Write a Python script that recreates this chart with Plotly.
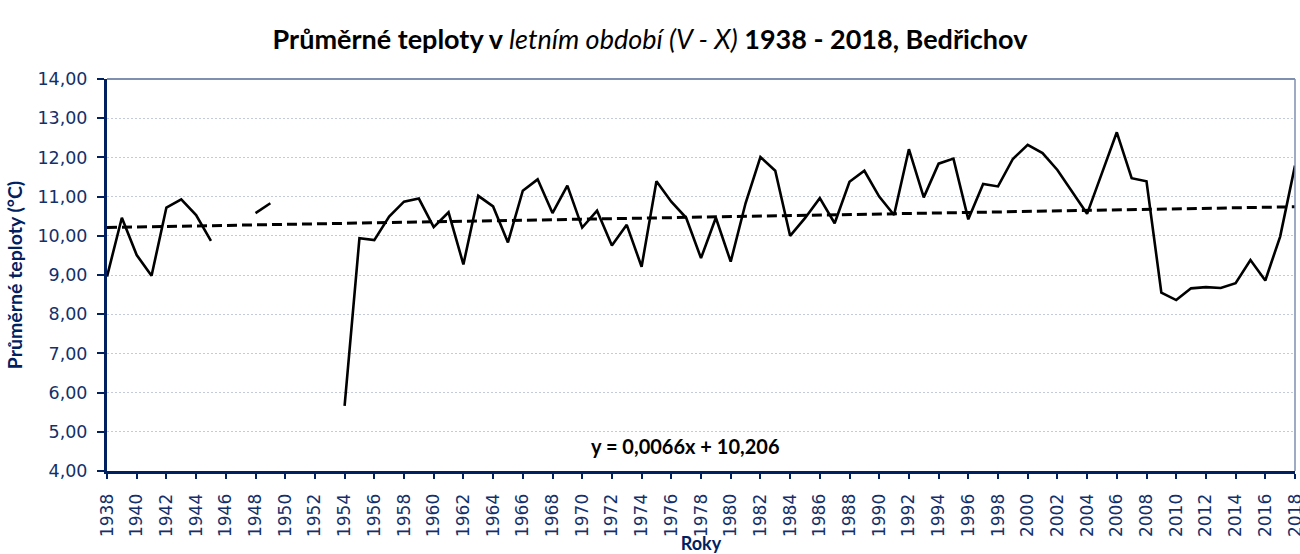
import plotly.graph_objects as go

years = list(range(1938, 2019))
temps = [
    8.96, 10.46, 9.51, 8.98, 10.72, 10.93, 10.53, 9.87,   # 1938-1945
    None, None,                                           # 1946-1947
    10.58, 10.83,                                         # 1948-1949
    None, None, None, None,                               # 1950-1953
    5.66, 9.94, 9.89, 10.49, 10.87, 10.95, 10.22, 10.60,  # 1954-1961
    9.27, 11.02, 10.75, 9.83, 11.15, 11.44, 10.58, 11.28, # 1962-1969
    10.21, 10.64, 9.75, 10.28, 9.21, 11.39, 10.87, 10.46, # 1970-1977
    9.43, 10.46, 9.34, 10.83, 12.01, 11.66, 10.00, 10.45, # 1978-1985
    10.96, 10.32, 11.38, 11.66, 11.00, 10.53, 12.21, 10.98, # 1986-1993
    11.84, 11.97, 10.42, 11.32, 11.26, 11.96, 12.32, 12.11, # 1994-2001
    11.68, 11.13, 10.56, 11.60, 12.64, 11.47, 11.39, 8.55,  # 2002-2009
    8.36, 8.66, 8.69, 8.67, 8.79, 9.38, 8.86, 9.98, 11.79,  # 2010-2018
]
trend_slope = 0.0066
trend_intercept = 10.206
trend_label = "y = 0,0066x + 10,206"

trend = [trend_slope * (i + 1) + trend_intercept for i in range(len(years))]

navy = "#002060"
label_col = "#13306A"
W, H = 1300, 554

fig = go.Figure()
fig.add_trace(go.Scatter(x=years, y=trend, mode="lines",
                         line=dict(color="black", width=3, dash="10px,5px"),
                         showlegend=False, hoverinfo="skip"))
fig.add_trace(go.Scatter(x=years, y=temps, mode="lines", connectgaps=False,
                         line=dict(color="black", width=2.6),
                         showlegend=False))

fig.update_layout(
    width=W, height=H,
    margin=dict(l=107, r=5, t=79, b=83, autoexpand=False),
    plot_bgcolor="white", paper_bgcolor="white",
    separators=", ",
    title=dict(
        text="<b>Průměrné teploty v </b><i>letním období (V - X)</i><b> 1938 - 2018, Bedřichov</b>",
        x=650 / W, xanchor="center", xref="container",
        y=1 - 40 / H, yanchor="middle", yref="container",
        font=dict(family="Lato", size=27, color="black"),
    ),
    font=dict(family="DejaVu Sans", color=label_col),
    annotations=[dict(text="<b>" + trend_label + "</b>", x=1976.97, y=4.63,
                      xref="x", yref="y", showarrow=False,
                      font=dict(family="Lato", size=20, color="black"))],
    shapes=[
        dict(type="line", xref="paper", yref="paper", x0=0, x1=1, y0=1, y1=1,
             line=dict(color=navy, width=1.2)),
        dict(type="line", xref="paper", yref="paper", x0=1, x1=1, y0=0, y1=1,
             line=dict(color="#7F8FB0", width=1.5)),
    ],
)
fig.update_xaxes(
    range=[1938, 2018], tick0=1938, dtick=2, tickangle=-90,
    showline=True, linecolor=navy, linewidth=3,
    ticks="outside", ticklen=5, tickwidth=2, tickcolor=navy,
    ticklabelstandoff=8, ticklabeloverflow="allow",
    showgrid=False, zeroline=False, automargin=False,
    tickfont=dict(family="DejaVu Sans", size=17, color=label_col),
    title=dict(text="<b>Roky</b>", font=dict(family="Lato", size=18, color=navy), standoff=0),
)
fig.update_yaxes(
    range=[4, 14], dtick=1, tickformat=".2f",
    showline=True, linecolor=navy, linewidth=3,
    ticks="outside", ticklen=7, tickwidth=2, tickcolor=navy,
    ticklabelstandoff=6,
    showgrid=True, gridcolor="#C3CADB", gridwidth=1, griddash="2px,2px",
    zeroline=False, automargin=False,
    tickfont=dict(family="DejaVu Sans", size=17.5, color=label_col),
    title=dict(text="<b>Průměrné teploty (°C)</b>", font=dict(family="Lato", size=19.5, color=navy), standoff=10),
)

fig.write_html(
    "out.html",
    config={"displayModeBar": False},
    post_script="document.body.style.margin='0';document.body.style.overflow='hidden';",
)
